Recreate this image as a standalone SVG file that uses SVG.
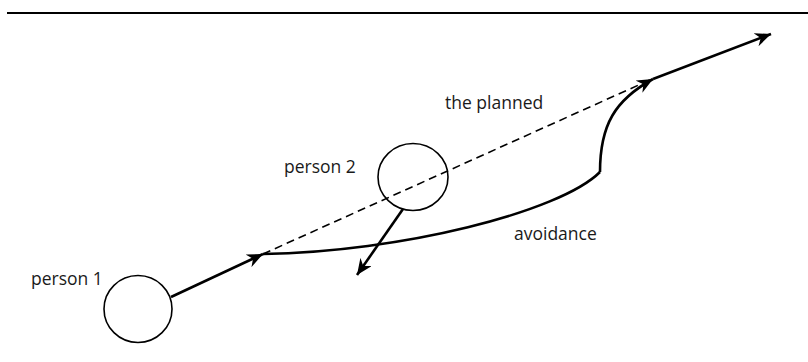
<svg xmlns="http://www.w3.org/2000/svg" width="808" height="362" viewBox="0 0 808 362">
<defs>
<marker id="ah" markerUnits="userSpaceOnUse" markerWidth="18" markerHeight="14" viewBox="0 0 18 14" refX="16" refY="7" orient="auto">
<path d="M0,0 L16,7 L0,14 L5,7 z" fill="#000"/>
</marker>
</defs>
<style>
.lbl{font-family:"Open Sans","Liberation Sans",sans-serif;font-size:17.5px;fill:#1a1a1a}
.node{fill:none;stroke:#000;stroke-width:1.6}
.solid{fill:none;stroke:#000;stroke-width:2.6}
.dash{fill:none;stroke:#000;stroke-width:1.6;stroke-dasharray:8 5}
</style>
<rect width="808" height="362" fill="#fff"/>
<line x1="7" y1="13" x2="808" y2="13" stroke="#000" stroke-width="2"/>
<g id="connectors">
<line class="dash" x1="263" y1="254" x2="652" y2="79"/>
<path class="solid" d="M263,254 C400,252 560,212 600,172"/>
<path class="solid" d="M600,172 C600,125 615,100 653,79" marker-end="url(#ah)"/>
<line class="solid" x1="171" y1="297" x2="263" y2="254" marker-end="url(#ah)"/>
<line class="solid" x1="653" y1="79" x2="771" y2="34" marker-end="url(#ah)"/>
<line class="solid" x1="403" y1="209" x2="357" y2="275" marker-end="url(#ah)"/>
</g>
<g id="person1">
<ellipse class="node" cx="138" cy="309" rx="34" ry="33.5"/>
<text class="lbl" x="31" y="285">person 1</text>
</g>
<g id="person2">
<ellipse class="node" cx="413" cy="177" rx="35" ry="33.5"/>
<text class="lbl" x="284" y="173">person 2</text>
</g>
<text class="lbl" x="445" y="109">the planned</text>
<text class="lbl" x="514" y="240">avoidance</text>
</svg>
